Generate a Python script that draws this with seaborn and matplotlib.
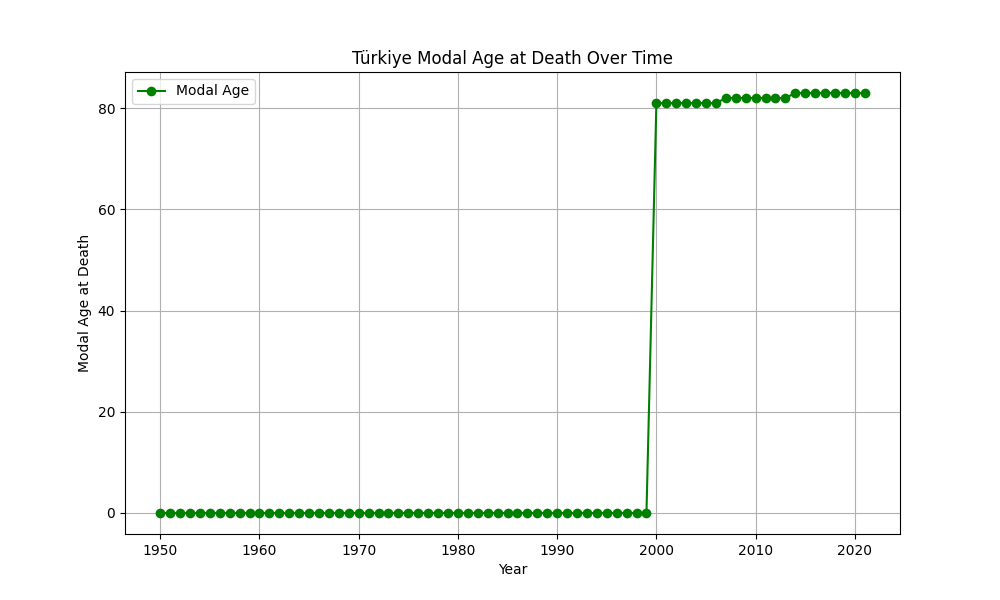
import matplotlib.pyplot as plt
import pandas as pd
import seaborn as sns

years = list(range(1950, 2022))
modal_age = [0] * 50 + [81] * 7 + [82] * 7 + [83] * 8

df = pd.DataFrame({"Year": years, "Modal Age": modal_age})

fig, ax = plt.subplots(figsize=(10, 6), dpi=100)
sns.lineplot(
    data=df,
    x="Year",
    y="Modal Age",
    marker="o",
    markersize=7,
    markeredgewidth=0,
    color="green",
    label="Modal Age",
    ax=ax,
)
ax.set_title("Türkiye Modal Age at Death Over Time")
ax.set_xlabel("Year")
ax.set_ylabel("Modal Age at Death")
ax.grid(True)
ax.legend(loc="upper left")
fig.savefig("out.png", dpi=100)
